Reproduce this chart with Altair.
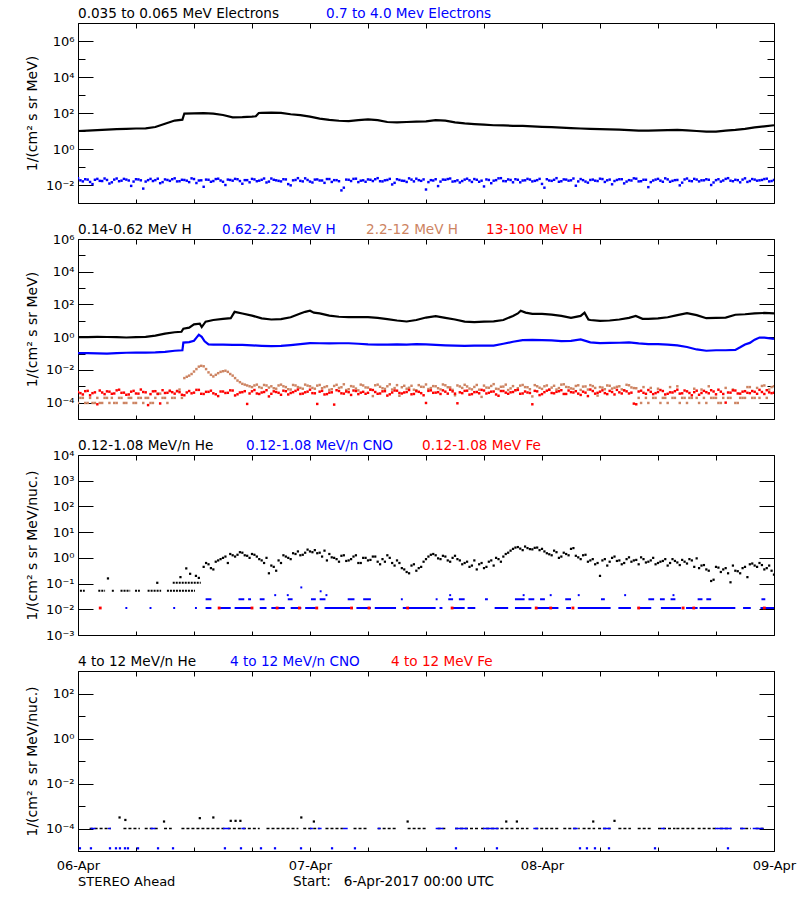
import altair as alt
import numpy as np
import pandas as pd

FONT = "DejaVu Sans"
BLACK, BLUE, TAN, RED = "#000000", "#0000ff", "#cd8462", "#ff0000"
W, H = 696, 180
X0 = 80  # page x of the plot's left edge, used to place the coloured title segments

# ---------------- axis ticks / labels ----------------
X_TICK_HOURS = [0, 6, 12, 18, 24, 30, 36, 42, 48, 54, 60, 66, 72]
DAY_HOURS = [0, 24, 48, 72]
DAY_LABELS = ["06-Apr", "07-Apr", "08-Apr", "09-Apr"]

P1_DOM, P1_MAJOR, P1_MINOR = [1e-3, 1e7], [6, 4, 2, 0, -2], [7, 5, 3, 1, -1, -3]
P2_DOM, P2_MAJOR, P2_MINOR = [1e-5, 1e6], [6, 4, 2, 0, -2, -4], [5, 3, 1, -1, -3, -5]
P3_DOM, P3_MAJOR, P3_MINOR = [1e-3, 1e4], [4, 3, 2, 1, 0, -1, -2, -3], []
P4_DOM, P4_MAJOR, P4_MINOR = [1e-5, 1e3], [2, 0, -2, -4], [3, 1, -1, -3, -5]

YT_MEV = "1/(cm\u00b2 s sr MeV)"
YT_NUC = "1/(cm\u00b2 s sr MeV/nuc.)"

TITLES = [
    [("0.035 to 0.065 MeV Electrons", BLACK, 80), ("0.7 to 4.0 Mev Electrons", BLUE, 328)],
    [("0.14-0.62 MeV H", BLACK, 80), ("0.62-2.22 MeV H", BLUE, 224),
     ("2.2-12 MeV H", TAN, 368), ("13-100 MeV H", RED, 488)],
    [("0.12-1.08 MeV/n He", BLACK, 80), ("0.12-1.08 MeV/n CNO", BLUE, 248),
     ("0.12-1.08 MeV Fe", RED, 424)],
    [("4 to 12 MeV/n He", BLACK, 80), ("4 to 12 MeV/n CNO", BLUE, 232),
     ("4 to 12 MeV Fe", RED, 393)],
]
FOOT_LEFT = "STEREO Ahead"
FOOT_RIGHT = "Start:\u00a0\u00a0\u00a06-Apr-2017 00:00 UTC"

# ---------------- data (log10 of flux; time in hours from 6-Apr 00:00) ----------------
# Panel 1: 0.035-0.065 MeV electrons (black)
E_LO_T = list(range(0, 11)) + [10.8] + list(range(11, 19)) + [18.4, 18.7] + list(range(19, 73))
E_LO_V = [1.00, 1.02, 1.05, 1.08, 1.10, 1.12, 1.14, 1.15, 1.22, 1.40, 1.58,
          1.63,
          1.97, 1.98, 1.99, 1.96, 1.89, 1.76, 1.77, 1.80,
          1.82, 2.00,
          2.01, 2.02, 2.01, 1.93, 1.88, 1.80, 1.69, 1.62, 1.57, 1.55,
          1.60, 1.65, 1.60, 1.50, 1.48, 1.50, 1.52, 1.54, 1.60, 1.58,
          1.48, 1.42, 1.38, 1.35, 1.32, 1.31, 1.29, 1.28, 1.26, 1.23,
          1.21, 1.19, 1.16, 1.14, 1.12, 1.10, 1.09, 1.08, 1.05, 1.02,
          1.02, 1.03, 1.05, 1.06, 1.04, 1.00, 0.96, 0.97, 1.02, 1.06,
          1.12, 1.20, 1.26, 1.32]

# Panel 1: 0.7-4.0 MeV electrons (blue); A on the half hour grid, B offset by 15 min
E_HI_A = [
    -1.62, -1.80, -1.70, -1.95, -1.66, -1.78, -1.72, -1.85, -1.64, -1.76,
    -1.70, -2.05, -1.68, -1.74, -1.81, -1.66, -1.73, -1.90, -1.69, -1.77,
    -1.63, -1.79, -1.72, -1.84, -1.67, -1.75, -2.10, -1.71, -1.78, -1.65,
    -1.82, -1.70, -1.76, -1.68, -1.93, -1.73, -1.66, -1.79, -1.71, -1.86,
    -1.64, -1.74, -1.80, -1.69, -2.02, -1.72, -1.77, -1.63, -1.81, -1.70,
    -1.75, -1.88, -1.67, -1.73, -1.79, -2.15, -1.71, -1.66, -1.84, -1.74,
    -1.69, -1.78, -1.62, -1.80, -1.72, -1.97, -1.68, -1.76, -1.83, -1.70,
    -1.65, -1.77, -2.25, -1.73, -1.68, -1.81, -1.71, -1.64, -1.79, -1.86,
    -1.70, -1.74, -1.67, -1.82, -2.08, -1.72, -1.76, -1.63, -1.78, -1.69,
    -1.85, -1.71, -1.75, -1.66, -1.80, -1.73, -1.94, -1.68, -1.77, -1.62,
    -1.79, -1.70, -1.74, -2.04, -1.67, -1.81, -1.72, -1.76, -1.65, -1.83,
    -1.70, -1.78, -1.68, -1.91, -1.73, -1.63, -1.80, -1.71, -2.12, -1.75,
    -1.66, -1.82, -1.69, -1.77, -1.72, -1.87, -1.64, -1.79, -1.70, -1.74,
    -1.68, -2.00, -1.73, -1.81, -1.66, -1.76, -1.71, -1.85, -1.63, -1.78,
    -1.70, -1.74, -1.67, -1.80, -1.72]
E_HI_B = [
    -1.74, -1.68, -1.83, -1.71, -1.77, -1.64, -1.92, -1.70, -1.79, -1.66,
    -1.75, -1.81, -1.69, -2.20, -1.73, -1.78, -1.65, -1.84, -1.72, -1.68,
    -1.80, -1.71, -1.76, -1.63, -1.89, -1.74, -1.70, -1.82, -1.67, -1.75,
    -2.00, -1.72, -1.66, -1.78, -1.73, -1.85, -1.69, -1.76, -1.64, -1.81,
    -1.71, -1.77, -1.68, -1.95, -1.74, -1.62, -1.80, -1.72, -1.86, -1.69,
    -1.75, -1.67, -1.83, -1.73, -2.30, -1.70, -1.78, -1.65, -1.76, -1.82,
    -1.71, -1.68, -1.79, -1.74, -1.66, -1.88, -1.72, -1.77, -1.63, -1.80,
    -1.73, -1.69, -1.84, -1.75, -2.06, -1.70, -1.67, -1.81, -1.74, -1.78,
    -1.65, -1.83, -1.71, -1.76, -1.69, -1.90, -1.73, -1.62, -1.79, -1.72,
    -1.68, -1.85, -1.74, -1.70, -1.77, -1.66, -2.15, -1.75, -1.71, -1.82,
    -1.69, -1.76, -1.64, -1.80, -1.73, -1.87, -1.70, -1.78, -1.67, -1.74,
    -1.96, -1.72, -1.68, -1.81, -1.75, -1.65, -1.79, -1.71, -1.84, -1.70,
    -1.76, -1.63, -1.82, -1.73, -2.02, -1.69, -1.77, -1.66, -1.80, -1.74,
    -1.71, -1.86, -1.68, -1.75, -1.62, -1.79, -1.73, -1.70, -1.83, -1.67,
    -1.76, -1.72, -1.65, -1.78]

# Panel 2: 0.14-0.62 MeV H (black)
H_LO_T = (list(range(0, 11)) + [10.7, 10.9, 11.5, 12, 12.6, 12.8, 13.2]
          + [14, 15, 15.8, 16.2, 17, 18, 19, 20, 21, 22, 23] + [23.5, 24, 24.4, 25]
          + list(range(26, 46)) + [45.5, 45.8, 46.3, 47] + list(range(48, 53))
          + [52.4, 52.8, 53] + list(range(54, 58)) + [57.7, 58.4] + list(range(59, 73)))
H_LO_V = ([0.00, 0.00, 0.02, 0.01, 0.00, -0.02, 0.00, 0.02, 0.10, 0.22, 0.30]
          + [0.33, 0.52, 0.58, 0.78, 0.82, 0.62, 0.95]
          + [1.05, 1.12, 1.16, 1.55, 1.45, 1.32, 1.15, 1.08, 1.10, 1.22, 1.45]
          + [1.55, 1.62, 1.50, 1.45]
          + [1.32, 1.25, 1.22, 1.22, 1.22, 1.18, 1.10, 1.02, 0.96, 1.05,
             1.20, 1.28, 1.18, 1.08, 0.95, 0.92, 0.95, 0.97, 1.05, 1.30]
          + [1.45, 1.62, 1.50, 1.43] + [1.42, 1.38, 1.30, 1.18, 1.30]
          + [1.50, 1.08, 1.05] + [1.00, 1.02, 1.08, 1.18] + [1.30, 1.12]
          + [1.12, 1.15, 1.22, 1.35, 1.47, 1.35, 1.16, 1.18, 1.20, 1.37, 1.40, 1.45, 1.48, 1.46])

# Panel 2: 0.62-2.22 MeV H (blue)
H_MID_T = (list(range(0, 11)) + [10.8, 10.9, 11.5, 12, 12.3, 12.5, 12.8, 13.1, 13.5]
           + list(range(14, 64)) + list(range(64, 69)) + [68.5, 69, 69.5, 70, 70.5, 71, 72])
H_MID_V = ([-0.97, -0.98, -0.99, -1.00, -0.98, -0.95, -0.94, -0.94, -0.93, -0.90, -0.83]
           + [-0.80, -0.33, -0.30, -0.22, 0.00, 0.15, 0.02, -0.25, -0.44]
           + [-0.45, -0.46, -0.47, -0.47, -0.50, -0.53, -0.55, -0.53, -0.48, -0.42,
              -0.36, -0.37, -0.38, -0.37, -0.37, -0.40, -0.44, -0.46, -0.45, -0.44,
              -0.45, -0.43, -0.44, -0.47, -0.50, -0.52, -0.53, -0.52, -0.52, -0.51,
              -0.40, -0.28, -0.18, -0.16, -0.18, -0.20, -0.24, -0.22, -0.14, -0.32,
              -0.36, -0.35, -0.34, -0.32, -0.38, -0.42, -0.42, -0.45, -0.50, -0.60]
           + [-0.75, -0.83, -0.80, -0.80, -0.78]
           + [-0.62, -0.45, -0.35, -0.15, -0.02, -0.03, -0.10])

# Panel 2: 2.2-12 MeV H (tan); A on the half hour grid, B offset by 15 min
H_HI_A = ([-4.02, -3.71, -4.02, -4.02, -3.71, -4.02, -3.71, -3.71, -4.02, -3.71,
           -4.02, -3.71, -4.02, -3.71, -3.71, -4.02, -3.71, -3.45, -3.71, -3.30,
           -3.71, -3.20]
          + [-2.50, -2.35, -2.10, -1.80, -1.78, -2.15, -2.40, -2.20, -2.08, -2.12,
             -2.35, -2.65, -2.85, -2.95, -3.05, -2.90, -3.10, -2.95, -3.00, -3.15,
             -2.90, -3.05, -3.20, -2.95, -3.10, -2.90, -3.00]
          + [-3.15, -2.92, -3.05, -3.22, -2.98, -3.10, -2.88, -3.18, -3.02, -3.25,
             -2.95, -3.08, -3.60, -2.90, -3.12, -3.00, -3.20, -2.93, -3.06, -3.15,
             -2.97, -3.24, -3.03, -2.89, -3.11, -3.00, -3.19, -2.94, -3.07, -3.55,
             -3.01, -2.91, -3.14, -3.04, -3.21, -2.96, -3.09, -2.87, -3.17, -3.02,
             -3.23, -2.99, -3.12, -2.92, -3.06, -3.62, -3.00, -3.16, -2.95, -3.08,
             -3.20, -2.90, -3.04, -3.13, -2.98, -3.22, -3.01, -2.93, -3.10, -3.05,
             -3.18, -2.97, -3.09, -3.00, -3.24, -2.94, -3.11]
          + [-3.71, -3.05, -4.02, -3.71, -3.15, -3.71, -4.02, -3.71, -3.00, -3.71,
             -4.02, -3.71, -3.71, -3.20, -4.02, -3.71, -3.71, -4.02, -3.10, -3.71,
             -4.02, -3.71, -3.71, -3.05, -3.71, -3.71, -2.95, -3.20, -3.00])
H_HI_B = ([-3.71, -4.02, -3.71, -4.02, -4.02, -3.71, -4.02, -4.02, -3.71, -4.02,
           -3.71, -4.02, -3.71, -4.02, -3.71, -4.02, -3.45, -3.71, -4.02, -3.71,
           -3.30, -3.71]
          + [-2.42, -2.25, -1.95, -1.75, -1.95, -2.30, -2.30, -2.12, -2.05, -2.25,
             -2.50, -2.75, -2.90, -3.00, -2.95, -3.05, -2.92, -3.08, -3.12, -2.95,
             -3.00, -3.18, -2.92, -3.05, -3.15, -2.96, -3.10]
          + [-2.96, -3.12, -3.00, -3.18, -2.91, -3.06, -3.23, -2.99, -3.14, -2.90,
             -3.07, -3.20, -2.94, -3.03, -3.16, -2.88, -3.11, -3.58, -2.97, -3.09,
             -3.21, -2.93, -3.04, -3.17, -2.99, -3.12, -2.89, -3.06, -3.22, -2.95,
             -3.10, -3.01, -3.19, -2.92, -3.65, -3.08, -2.98, -3.15, -3.03, -2.90,
             -3.13, -3.24, -2.96, -3.05, -3.18, -2.93, -3.09, -3.00, -3.21, -2.97,
             -3.11, -2.88, -3.06, -3.16, -2.94, -3.02, -3.20, -2.99, -3.57, -3.08,
             -2.95, -3.14, -3.03, -3.19, -2.91, -3.07, -3.12]
          + [-4.02, -3.71, -3.10, -3.71, -4.02, -3.71, -3.05, -3.71, -4.02, -3.71,
             -3.71, -3.15, -4.02, -3.71, -3.00, -3.71, -4.02, -3.71, -3.71, -3.20,
             -4.02, -3.71, -3.05, -3.71, -3.10, -2.98, -3.71, -3.05])

# Panel 2: 13-100 MeV H (red); A on the half hour grid, B offset by 15 min
H_TOP_A = [
    -3.35, -3.50, -3.28, -3.42, -4.10, -3.38, -3.31, -3.46, -3.25, -3.40,
    -3.52, -3.33, -3.44, -3.20, -3.37, -3.48, -3.30, -4.05, -3.41, -3.27,
    -3.45, -3.36, -3.55, -3.29, -3.39, -3.22, -3.47, -3.34, -3.43, -3.60,
    -3.32, -3.40, -3.26, -3.49, -3.36, -4.08, -3.31, -3.44, -3.38, -3.24,
    -3.46, -3.35, -3.52, -3.30, -3.41, -3.28, -3.47, -3.37, -3.21, -3.43,
    -3.33, -3.50, -3.39, -4.12, -3.29, -3.45, -3.36, -3.26, -3.48, -3.34,
    -3.40, -3.23, -3.46, -3.31, -3.57, -3.38, -3.27, -3.44, -3.35, -3.49,
    -3.30, -3.42, -4.02, -3.25, -3.39, -3.47, -3.33, -3.21, -3.45, -3.37,
    -3.28, -3.51, -3.36, -3.43, -3.26, -3.40, -3.32, -3.58, -3.29, -3.46,
    -3.35, -3.22, -3.44, -3.38, -4.10, -3.31, -3.48, -3.27, -3.41, -3.34,
    -3.24, -3.47, -3.36, -3.30, -3.53, -3.39, -3.20, -3.45, -3.33, -3.42,
    -3.28, -3.50, -3.37, -3.25, -3.44, -4.06, -3.32, -3.40, -3.23, -3.48,
    -3.35, -3.29, -3.46, -3.38, -3.21, -3.43, -3.31, -3.55, -3.27, -3.41,
    -3.36, -3.24, -3.49, -3.33, -4.00, -3.39, -3.26, -3.45, -3.30, -3.42,
    -3.34, -3.22, -3.47, -3.37, -3.40]
H_TOP_B = [
    -3.42, -3.30, -3.55, -3.37, -3.26, -3.48, -3.33, -3.44, -3.21, -3.39,
    -3.50, -3.28, -3.45, -3.35, -4.15, -3.31, -3.47, -3.24, -3.40, -3.36,
    -3.29, -3.52, -3.38, -3.43, -3.22, -3.46, -3.34, -3.27, -3.49, -3.32,
    -3.41, -3.25, -3.56, -3.38, -3.30, -3.44, -3.23, -3.47, -3.35, -3.62,
    -3.31, -3.40, -3.27, -3.50, -3.36, -3.20, -3.45, -3.33, -3.42, -4.08,
    -3.28, -3.48, -3.37, -3.24, -3.43, -3.32, -3.53, -3.29, -3.39, -3.46,
    -3.21, -3.35, -3.44, -3.30, -3.49, -3.26, -3.41, -3.38, -3.23, -3.47,
    -3.34, -3.55, -3.28, -3.40, -3.36, -3.25, -3.45, -3.31, -4.04, -3.42,
    -3.27, -3.48, -3.35, -3.22, -3.44, -3.33, -3.50, -3.29, -3.39, -3.37,
    -3.24, -3.46, -3.32, -3.41, -3.28, -3.54, -3.36, -3.21, -3.43, -3.30,
    -3.47, -3.26, -3.38, -3.45, -3.33, -3.60, -3.29, -3.40, -3.25, -3.48,
    -3.35, -3.22, -3.44, -3.31, -3.39, -4.10, -3.27, -3.46, -3.34, -3.42,
    -3.23, -3.50, -3.37, -3.30, -3.45, -3.26, -3.41, -3.36, -3.52, -3.28,
    -3.43, -3.32, -3.21, -3.47, -3.38, -3.25, -3.44, -3.33, -3.40, -3.29,
    -3.46, -3.35, -3.24, -3.42]

# Panel 3: 0.12-1.08 MeV/n He (black)
HE3_EARLY_RUNS = [(0.2, 0.7, -1.28), (2.1, 2.8, -1.28), (3.5, 3.8, -1.28), (4.4, 5.4, -1.28),
                  (5.9, 6.4, -1.28), (7.2, 8.6, -1.28), (9.2, 12.1, -1.28), (9.8, 12.7, -0.97)]
HE3_EARLY_T = [3.1, 8.2, 10.6, 11.2, 11.6, 12.2, 12.5]
HE3_EARLY_V = [-0.80, -0.97, -0.75, -0.41, -0.62, -0.70, -0.78]
HE3_A_V = [  # from 13.0 h every 30 min
    -0.35, -0.25, -0.45, -0.10, 0.00, -0.20, 0.10, 0.12, 0.20, 0.08,
    0.15, 0.05, -0.10, 0.00, -0.30, -0.50, -0.20, 0.05, -0.05, 0.15,
    0.10, 0.20, 0.25, 0.30, 0.20, 0.28, 0.15, 0.00, -0.15, 0.10,
    -0.10, 0.05, -0.20, 0.00, -0.10, 0.05, -0.15, -0.05, 0.10, -0.20,
    -0.10, -0.40, -0.55, -0.30, -0.50, -0.35, -0.05, 0.12, 0.10, -0.05,
    0.05, -0.15, 0.08, -0.10, -0.20, -0.35, -0.10, -0.25, -0.40, -0.15,
    -0.30, -0.05, 0.05, 0.20, 0.35, 0.42, 0.30, 0.38, 0.33, 0.40,
    0.35, 0.18, 0.10, 0.22, 0.05, 0.15, 0.35, 0.08, -0.05, 0.12,
    -0.10, -0.25, -0.70, -0.05, -0.15, 0.05, -0.10, -0.20, 0.02, -0.10,
    -0.25, -0.05, -0.15, 0.00, -0.20, -0.12, -0.30, -0.05, -0.18, -0.08,
    -0.22, -0.10, -0.02, -0.30, -0.45, -0.90, -0.35, -0.55, -0.40, -0.95,
    -0.50, -0.60, -0.35, -0.25, -0.30, -0.20, -0.45, -0.30, -0.65]
HE3_B_V = [  # from 13.25 h every 30 min
    -0.20, -0.40, -0.15, -0.05, 0.05, 0.15, 0.05, 0.22, 0.10, 0.00,
    0.12, -0.05, -0.20, -0.60, -0.35, -0.10, 0.10, 0.00, 0.18, 0.25,
    0.12, 0.32, 0.22, 0.18, 0.05, -0.10, 0.02, -0.05, 0.08, -0.12,
    -0.05, 0.10, -0.20, 0.00, -0.08, 0.05, -0.25, -0.15, 0.00, -0.30,
    -0.20, -0.45, -0.60, -0.25, -0.40, -0.15, 0.05, 0.15, -0.02, 0.08,
    -0.10, 0.00, -0.05, -0.25, -0.15, -0.30, -0.45, -0.20, -0.35, -0.10,
    0.00, -0.15, 0.15, 0.28, 0.40, 0.36, 0.44, 0.34, 0.39, 0.30,
    0.25, 0.14, 0.28, 0.00, 0.20, 0.10, 0.38, 0.02, 0.10, -0.15,
    -0.05, -0.20, -0.10, -0.30, 0.00, -0.12, -0.25, -0.05, -0.15, -0.08,
    0.02, -0.18, -0.10, -0.25, -0.15, -0.05, -0.20, -0.12, -0.28, -0.15,
    -0.05, -0.35, -0.40, -0.28, -0.50, -0.85, -0.38, -0.45, -0.60, -0.30,
    -0.52, -0.40, -0.75, -0.22, -0.35, -0.28, -0.40, -0.50]

# Panel 3: 0.12-1.08 MeV/n CNO (blue) as runs (start h, end h, log10 level)
CNO3_RUNS = [
    (4.9, 5.1, -1.95), (7.4, 7.6, -1.95), (9.85, 10.05, -1.95), (12.1, 12.3, -1.95),
    (13.2, 13.8, -1.95), (14.7, 15.8, -1.95), (16.2, 17.9, -1.95), (18.8, 19.5, -1.95),
    (20.0, 21.4, -1.95), (22.0, 23.1, -1.95), (23.5, 24.6, -1.95), (25.5, 28.2, -1.95),
    (28.8, 30.3, -1.95), (30.7, 32.9, -1.95), (33.6, 37.0, -1.95), (37.4, 37.7, -1.95),
    (38.6, 40.0, -1.95), (40.3, 41.1, -1.95), (43.1, 44.5, -1.95), (45.2, 46.9, -1.95),
    (47.3, 49.7, -1.95), (50.5, 51.0, -1.95), (51.7, 55.1, -1.95), (55.9, 57.2, -1.95),
    (57.9, 59.3, -1.95), (60.3, 62.4, -1.95), (62.9, 64.1, -1.95), (64.3, 68.0, -1.95),
    (68.8, 69.6, -1.95), (70.6, 72.0, -1.95),
    (13.2, 13.8, -1.61), (16.6, 17.2, -1.61), (17.6, 17.9, -1.61), (18.8, 19.3, -1.61),
    (21.7, 22.2, -1.61), (24.1, 24.6, -1.61), (25.0, 25.6, -1.61), (27.9, 28.6, -1.61),
    (29.5, 30.3, -1.61), (33.4, 33.6, -1.61), (37.0, 37.2, -1.61), (38.3, 38.8, -1.61),
    (39.4, 40.0, -1.61), (42.1, 42.4, -1.61), (45.2, 46.2, -1.61), (46.6, 47.2, -1.61),
    (47.8, 48.3, -1.61), (50.4, 51.0, -1.61), (54.1, 54.5, -1.61), (59.0, 59.6, -1.61),
    (60.2, 60.7, -1.61), (61.3, 61.8, -1.61), (64.1, 64.6, -1.61), (65.0, 65.5, -1.61),
    (70.7, 71.1, -1.61),
    (20.3, 20.5, -1.45), (21.6, 21.8, -1.45), (25.6, 25.8, -1.45), (38.4, 38.6, -1.45),
    (46.0, 46.2, -1.45), (48.8, 49.0, -1.45), (51.7, 51.9, -1.45), (56.5, 56.7, -1.45),
    (61.5, 61.7, -1.45), (23.0, 23.2, -1.15), (25.0, 25.2, -1.30)]

# Panel 3: 0.12-1.08 MeV Fe (red)
FE3_T = [2.3, 14.6, 18.0, 20.6, 22.9, 24.7, 28.3, 30.1, 34.1, 38.7, 47.4, 48.9, 51.2, 58.0, 62.6, 63.7, 71.0]
FE3_V = [-1.95, -1.95, -1.95, -1.95, -1.95, -1.95, -1.95, -1.95, -1.95, -1.95,
         -1.95, -1.95, -1.95, -1.95, -1.95, -1.95, -1.95]

# Panel 4: 4-12 MeV/n He (black)
HE4_RUNS = [(1.2, 3.4, -4.0), (4.7, 6.4, -4.0), (6.9, 8.3, -4.0), (8.9, 9.7, -4.0), (10.7, 15.2, -4.0),
            (15.5, 18.8, -4.0), (19.5, 22.8, -4.0), (23.3, 25.0, -4.0), (25.6, 27.4, -4.0),
            (28.5, 30.0, -4.0), (31.0, 32.9, -4.0), (34.1, 36.0, -4.0), (37.2, 38.0, -4.0),
            (39.0, 41.4, -4.0), (41.7, 43.5, -4.0), (43.7, 45.2, -4.0), (45.3, 46.6, -4.0),
            (47.3, 49.7, -4.0), (50.2, 51.9, -4.0), (52.2, 53.5, -4.0), (53.8, 55.1, -4.0),
            (55.9, 57.2, -4.0), (57.9, 59.3, -4.0), (60.0, 61.8, -4.0), (61.9, 63.8, -4.0),
            (64.1, 66.2, -4.0), (66.4, 67.6, -4.0), (68.5, 69.6, -4.0), (70.1, 71.1, -4.0)]
HE4_T = [4.3, 4.9, 8.9, 12.6, 14.0, 15.8, 16.3, 16.8, 23.1, 24.4, 34.1, 44.3, 45.4, 53.3, 55.5]
HE4_V = [-3.51, -3.62, -3.69, -3.54, -3.51, -3.66, -3.66, -3.66, -3.51, -3.69,
         -3.69, -3.69, -3.69, -3.69, -3.66]

# Panel 4: 4-12 MeV/n CNO (blue)
CNO4_RUNS = [(1.3, 1.8, -4.0), (3.1, 3.4, -4.0), (7.5, 8.0, -4.0), (15.0, 15.7, -4.0), (16.9, 17.3, -4.0),
             (24.0, 24.3, -4.0), (24.8, 25.2, -4.0), (27.4, 27.9, -4.0), (31.0, 31.3, -4.0),
             (37.0, 37.8, -4.0), (39.0, 40.3, -4.0), (41.9, 43.5, -4.0), (47.1, 47.6, -4.0),
             (51.2, 51.7, -4.0), (54.3, 55.1, -4.0), (60.3, 60.7, -4.0), (65.9, 67.6, -4.0),
             (68.5, 69.0, -4.0), (69.8, 70.9, -4.0)]
CNO4_T = [0.2, 1.34, 3.31, 3.93, 4.34, 4.86, 5.17, 6.21, 8.28, 9.83, 15.2, 16.86, 18.93,
          20.38, 23.07, 26.28, 28.65, 39.1, 43.34, 51.93, 52.65, 53.48, 54.93, 59.69, 67.24]
CNO4_V = [-4.88, -4.88, -4.88, -4.88, -4.88, -4.88, -4.88, -4.88, -4.88, -4.88, -4.88, -4.88, -4.88,
          -4.88, -4.88, -4.88, -4.88, -4.88, -4.88, -4.88, -4.88, -4.88, -4.88, -4.88, -4.88]

# sampling grids (time stamps only)
GRID_A = [0.5 * i for i in range(145)]
GRID_B = [0.25 + 0.5 * i for i in range(144)]
HE3_A_T = [13.0 + 0.5 * i for i in range(len(HE3_A_V))]
HE3_B_T = [13.25 + 0.5 * i for i in range(len(HE3_B_V))]

# ---------------- helpers ----------------
SUP = str.maketrans("-0123456789", "\u207b\u2070\u00b9\u00b2\u00b3\u2074\u2075\u2076\u2077\u2078\u2079")


def xscale():
    return alt.Scale(domain=[0, 72], nice=False, zero=False)


def yscale(dom):
    return alt.Scale(type="log", domain=dom, nice=False)


def frame(t, logv):
    df = pd.DataFrame({"h": t, "lv": logv}).dropna()
    df["v"] = 10.0 ** df["lv"]
    return df


def line_layer(t, logv, color, dom):
    return alt.Chart(frame(t, logv)).mark_line(color=color, strokeWidth=2.2, clip=True).encode(
        x=alt.X("h:Q", scale=xscale(), axis=None),
        y=alt.Y("v:Q", scale=yscale(dom), axis=None))


def pts_layer(t, logv, color, dom, size=5):
    return alt.Chart(frame(t, logv)).mark_square(color=color, size=size, opacity=1, clip=True).encode(
        x=alt.X("h:Q", scale=xscale(), axis=None),
        y=alt.Y("v:Q", scale=yscale(dom), axis=None))


def runs_layer(runs, color, dom, width=2, dash=None):
    df = pd.DataFrame(runs, columns=["h", "h2", "lv"])
    df["v"] = 10.0 ** df["lv"]
    kw = dict(color=color, strokeWidth=width, clip=True)
    if dash:
        kw["strokeDash"] = dash
    return alt.Chart(df).mark_rule(**kw).encode(
        x=alt.X("h:Q", scale=xscale(), axis=None), x2="h2:Q",
        y=alt.Y("v:Q", scale=yscale(dom), axis=None))


def ylabel_expr(exps):
    return "".join(f"round(log(datum.value)/LN10) == {e} ? '10{str(e).translate(SUP)}' : " for e in exps) + "''"


def xlabel_expr():
    return "".join(f"datum.value == {h} ? '{s}' : " for h, s in zip(DAY_HOURS, DAY_LABELS)) + "''"


AX_COMMON = dict(grid=False, domain=False, labelFlush=False, labelOverlap=False)


def axis_layers(dom, major, minor, ytitle, xlabels):
    base = pd.DataFrame({"h": [0.0], "v": [1.0]})
    majv = [10.0 ** e for e in major]
    minv = [10.0 ** e for e in minor]

    y_lab = alt.Axis(orient="left", values=majv, labelExpr=ylabel_expr(major), ticks=False,
                     labelPadding=4, labelFont=FONT, labelFontSize=13, labelColor=BLACK,
                     title=ytitle, titleFont=FONT, titleFontSize=14, titleFontWeight="normal",
                     titleColor=BLACK, titlePadding=6, **AX_COMMON)

    def tick_axis(orient, vals, size):
        return alt.Axis(orient=orient, offset=-W, values=vals, labels=False, ticks=True, tickSize=size,
                        tickColor=BLACK, tickWidth=1, title=None, **AX_COMMON)

    def xtick_axis(orient, size):
        return alt.Axis(orient=orient, offset=-H, values=X_TICK_HOURS, labels=False, ticks=True,
                        tickSize=size, tickColor=BLACK, tickWidth=1, title=None, **AX_COMMON)

    x_lab = None
    if xlabels:
        x_lab = alt.Axis(orient="bottom", values=DAY_HOURS, labelExpr=xlabel_expr(), ticks=False,
                         labelPadding=8, labelFont=FONT, labelFontSize=13, labelColor=BLACK,
                         title=None, **AX_COMMON)

    pairs = [
        (x_lab, y_lab),
        (xtick_axis("bottom", 5), tick_axis("right", majv, 15)),   # top-edge x ticks / left-edge major
        (xtick_axis("top", 4), tick_axis("right", minv, 7)),       # bottom-edge x ticks / left-edge minor
        (None, tick_axis("left", majv, 15)),                       # right-edge major
        (None, tick_axis("left", minv, 7)),                        # right-edge minor
    ]
    out = []
    for xa, ya in pairs:
        out.append(alt.Chart(base).mark_point(opacity=0).encode(
            x=alt.X("h:Q", scale=xscale(), axis=xa),
            y=alt.Y("v:Q", scale=yscale(dom), axis=ya)))
    return out


def title_layers(segments):
    return [alt.Chart().mark_text(text=s, color=c, align="left", baseline="alphabetic",
                                  font=FONT, fontSize=13.6).encode(x=alt.value(px - X0), y=alt.value(-5))
            for s, c, px in segments]


def panel(layers):
    return alt.layer(*layers).resolve_axis(x="independent", y="independent").properties(width=W, height=H)


# ---------------- panels ----------------
p1 = panel(axis_layers(P1_DOM, P1_MAJOR, P1_MINOR, YT_MEV, False)
           + [line_layer(E_LO_T, E_LO_V, BLACK, P1_DOM),
              pts_layer(GRID_A, E_HI_A, BLUE, P1_DOM, 6),
              pts_layer(GRID_B, E_HI_B, BLUE, P1_DOM, 6)]
           + title_layers(TITLES[0]))

p2 = panel(axis_layers(P2_DOM, P2_MAJOR, P2_MINOR, YT_MEV, False)
           + [line_layer(H_LO_T, H_LO_V, BLACK, P2_DOM),
              line_layer(H_MID_T, H_MID_V, BLUE, P2_DOM),
              pts_layer(GRID_A, H_HI_A, TAN, P2_DOM, 6),
              pts_layer(GRID_B, H_HI_B, TAN, P2_DOM, 6),
              pts_layer(GRID_A, H_TOP_A, RED, P2_DOM, 6),
              pts_layer(GRID_B, H_TOP_B, RED, P2_DOM, 6)]
           + title_layers(TITLES[1]))

p3 = panel(axis_layers(P3_DOM, P3_MAJOR, P3_MINOR, YT_NUC, False)
           + [runs_layer(HE3_EARLY_RUNS, BLACK, P3_DOM, 2, [2, 1]),
              pts_layer(HE3_EARLY_T, HE3_EARLY_V, BLACK, P3_DOM),
              pts_layer(HE3_A_T, HE3_A_V, BLACK, P3_DOM),
              pts_layer(HE3_B_T, HE3_B_V, BLACK, P3_DOM),
              runs_layer(CNO3_RUNS, BLUE, P3_DOM, 2),
              pts_layer(FE3_T, FE3_V, RED, P3_DOM, 8)]
           + title_layers(TITLES[2]))

foot = [alt.Chart().mark_text(text=FOOT_LEFT, color=BLACK, align="left", baseline="alphabetic",
                              font=FONT, fontSize=13).encode(x=alt.value(0), y=alt.value(H + 35)),
        alt.Chart().mark_text(text=FOOT_RIGHT, color=BLACK, align="left", baseline="alphabetic",
                              font=FONT, fontSize=13.6).encode(x=alt.value(295 - X0), y=alt.value(H + 35))]

p4 = panel(axis_layers(P4_DOM, P4_MAJOR, P4_MINOR, YT_NUC, True)
           + [runs_layer(HE4_RUNS, BLACK, P4_DOM, 1.5, [3, 2]),
              pts_layer(HE4_T, HE4_V, BLACK, P4_DOM),
              runs_layer(CNO4_RUNS, BLUE, P4_DOM, 1.5),
              pts_layer(CNO4_T, CNO4_V, BLUE, P4_DOM)]
           + title_layers(TITLES[3]) + foot)

chart = (alt.vconcat(p1, p2, p3, p4, spacing=36, bounds="flush")
         .configure_view(stroke=BLACK, strokeWidth=1)
         .properties(padding={"left": 24, "top": 6, "right": 0, "bottom": 0}, background="white"))

chart.save("out.html", embed_options={"renderer": "svg", "actions": False})
